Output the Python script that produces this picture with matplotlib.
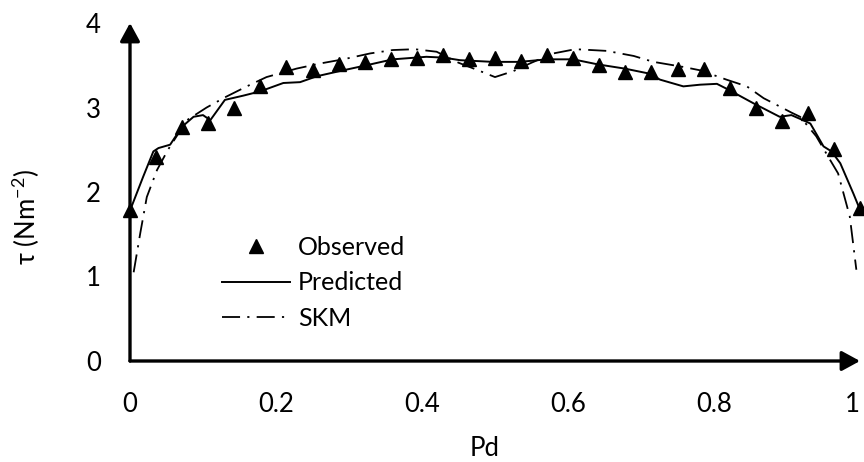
import matplotlib
matplotlib.use("Agg")
import matplotlib.pyplot as plt
import numpy as np

plt.rcParams['font.family'] = ['Lato', 'DejaVu Sans']
plt.rcParams['mathtext.default'] = 'regular'

# Observed data (29 points, Pd = i/28)
obs_x = [i / 28 for i in range(29)]
obs_y = [1.79, 2.42, 2.77, 2.82, 3.00, 3.26, 3.48, 3.44, 3.51, 3.54,
         3.57, 3.59, 3.62, 3.57, 3.59, 3.55, 3.62, 3.58, 3.50, 3.42,
         3.42, 3.46, 3.46, 3.23, 3.00, 2.84, 2.93, 2.51, 1.81]

# Predicted curve
pred_x = [0.0, 0.018, 0.032, 0.039, 0.055, 0.071, 0.087, 0.100, 0.110, 0.130,
          0.155, 0.178, 0.210, 0.233, 0.256, 0.292, 0.324, 0.360, 0.406, 0.430,
          0.452, 0.497, 0.534, 0.571, 0.607, 0.641, 0.678, 0.712, 0.726, 0.758,
          0.781, 0.804, 0.820, 0.854, 0.890, 0.906, 0.922, 0.932, 0.950, 0.961,
          0.973, 0.991, 1.0]
pred_y = [1.78, 2.18, 2.48, 2.52, 2.56, 2.77, 2.89, 2.91, 2.85, 3.09,
          3.14, 3.19, 3.29, 3.30, 3.37, 3.44, 3.50, 3.57, 3.60, 3.59,
          3.56, 3.54, 3.54, 3.57, 3.57, 3.51, 3.46, 3.40, 3.33, 3.25,
          3.27, 3.28, 3.21, 3.05, 2.89, 2.91, 2.85, 2.81, 2.54, 2.48,
          2.34, 1.98, 1.79]

# SKM curve
skm_x = [0.005, 0.014, 0.023, 0.037, 0.052, 0.078, 0.105, 0.130, 0.160, 0.187,
         0.228, 0.260, 0.292, 0.329, 0.360, 0.390, 0.420, 0.450, 0.477, 0.500,
         0.525, 0.550, 0.580, 0.610, 0.653, 0.690, 0.717, 0.758, 0.781, 0.817,
         0.845, 0.868, 0.886, 0.906, 0.918, 0.940, 0.959, 0.970, 0.986, 0.995]
skm_y = [1.05, 1.51, 1.94, 2.26, 2.50, 2.85, 3.00, 3.12, 3.25, 3.36,
         3.46, 3.52, 3.57, 3.64, 3.68, 3.69, 3.66, 3.53, 3.44, 3.36,
         3.43, 3.53, 3.64, 3.69, 3.67, 3.61, 3.54, 3.48, 3.44, 3.33,
         3.25, 3.11, 3.03, 2.94, 2.89, 2.66, 2.38, 2.22, 1.71, 1.08]

xticks = [0, 0.2, 0.4, 0.6, 0.8, 1]
xtick_labels = ['0', '0.2', '0.4', '0.6', '0.8', '1']
yticks = [0, 1, 2, 3, 4]
ytick_labels = ['0', '1', '2', '3', '4']

W, H = 864, 462
fig = plt.figure(figsize=(W / 100, H / 100), dpi=100)
ax = fig.add_axes([130 / W, 1 - 361 / H, 730 / W, 338 / H])

ax.plot(obs_x, obs_y, linestyle='none', marker='^', markersize=10.5,
        color='black', label='Observed', clip_on=False, zorder=4)
ax.plot(pred_x, pred_y, color='black', lw=1.4, label='Predicted', zorder=3)
ax.plot(skm_x, skm_y, color='black', lw=1.3, linestyle=(0, (10, 4, 1.2, 4)),
        label='SKM', zorder=3)

ax.set_xlim(0, 1)
ax.set_ylim(0, 4)
ax.set_xticks(xticks)
ax.set_xticklabels(xtick_labels)
ax.set_yticks(yticks)
ax.set_yticklabels(ytick_labels)
ax.tick_params(length=0, labelsize=18.5)
ax.tick_params(axis='x', pad=22)
ax.tick_params(axis='y', pad=21)
ax.get_xticklabels()[-1].set_ha('right')

for s in ax.spines.values():
    s.set_visible(False)

arrow_kw = dict(arrowstyle='-|>,head_length=0.55,head_width=0.3',
                lw=2.4, color='black', shrinkA=0, shrinkB=0,
                mutation_scale=20)
ax.annotate('', xy=(0, 1), xytext=(0, 0), xycoords='axes fraction',
            textcoords='axes fraction', arrowprops=arrow_kw, zorder=5)
ax.annotate('', xy=(1, 0), xytext=(0, 0), xycoords='axes fraction',
            textcoords='axes fraction', arrowprops=arrow_kw, zorder=5)

ax.set_xlabel('Pd', fontsize=18.5)
ax.xaxis.set_label_coords((485 - 130) / 730, -(448 - 361) / 338)
ax.xaxis.label.set_va('center')
ax.set_ylabel(r'τ (Nm$^{-2}$)', fontsize=18.5)
ax.yaxis.set_label_coords((26 - 130) / 730, (361 - 217) / 338)
ax.yaxis.label.set_va('center')

leg = ax.legend(loc='center left', bbox_to_anchor=(221.7 / W, 1 - 283 / H),
                bbox_transform=fig.transFigure, frameon=False, fontsize=18,
                handlelength=2.75, handletextpad=0.3, labelspacing=0.5,
                borderpad=0, borderaxespad=0)

fig.savefig('out.png', dpi=100)
